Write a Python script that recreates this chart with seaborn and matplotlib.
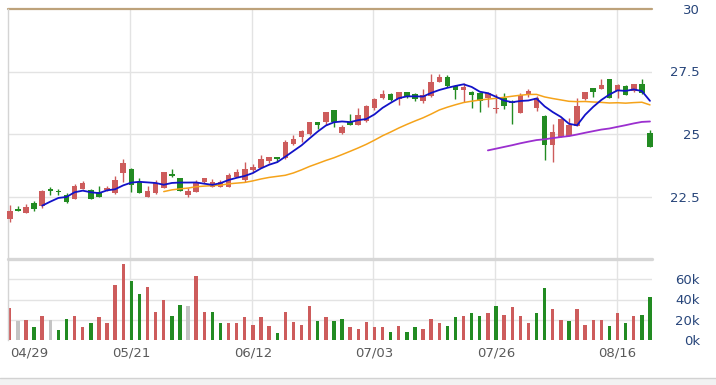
import numpy as np
import pandas as pd
import matplotlib
matplotlib.use("Agg")
import matplotlib.pyplot as plt
import seaborn as sns

# ---------------- data ----------------
opens = [21.60, 21.99, 21.85, 22.23, 22.12, 22.80, 22.73, 22.56, 22.41, 22.81,
         22.76, 22.69, 22.75, 22.63, 23.45, 23.59, 23.09, 22.49, 22.65, 22.83,
         23.40, 23.23, 22.56, 22.69, 23.09, 22.89, 22.87, 22.87, 23.29, 23.16,
         23.56, 23.65, 23.91, 24.09, 24.03, 24.60, 24.87, 25.00, 25.48, 25.49,
         25.96, 25.05, 25.47, 25.36, 25.53, 26.05, 26.43, 26.60, 26.39, 26.69,
         26.59, 26.33, 26.53, 27.09, 27.29, 26.92, 26.76, 26.69, 26.63, 26.43,
         25.99, 26.45, 26.29, 25.83, 26.59, 26.05, 25.73, 24.56, 24.89, 24.93,
         25.33, 26.39, 26.85, 26.80, 27.20, 26.72, 26.92, 26.72, 26.99, 25.03]
closes = [21.93, 21.93, 22.09, 21.99, 22.73, 22.73, 22.67, 22.29, 22.93, 23.05,
          22.41, 22.49, 22.85, 23.15, 23.83, 22.96, 22.65, 22.73, 23.03, 23.48,
          23.32, 22.73, 22.73, 23.05, 23.23, 23.09, 23.07, 23.36, 23.49, 23.60,
          23.67, 24.00, 24.09, 24.01, 24.69, 24.81, 25.13, 25.49, 25.37, 25.89,
          25.47, 25.29, 25.36, 25.76, 26.12, 26.39, 26.60, 26.36, 26.69, 26.49,
          26.39, 26.56, 27.09, 27.27, 26.93, 26.76, 26.89, 26.56, 26.32, 26.63,
          26.05, 26.13, 26.23, 26.56, 26.73, 26.45, 24.56, 25.09, 25.59, 25.36,
          26.13, 26.67, 26.69, 26.96, 26.45, 26.96, 26.56, 26.99, 26.63, 24.49]
highs = [22.16, 22.12, 22.20, 22.31, 22.76, 22.88, 22.81, 22.65, 23.00, 23.12,
         22.79, 22.92, 22.93, 23.33, 23.99, 23.63, 23.23, 22.92, 23.16, 23.48,
         23.59, 23.23, 22.83, 23.16, 23.23, 23.19, 23.16, 23.45, 23.59, 23.89,
         23.80, 24.16, 24.09, 24.09, 24.76, 24.96, 25.16, 25.49, 25.48, 25.89,
         25.96, 25.36, 25.79, 26.05, 26.16, 26.43, 26.76, 26.65, 26.69, 26.69,
         26.63, 26.80, 27.39, 27.39, 27.35, 26.96, 27.03, 26.72, 26.67, 26.69,
         26.59, 26.63, 26.36, 26.65, 26.80, 26.53, 25.76, 25.39, 25.63, 25.63,
         26.43, 26.69, 26.85, 27.20, 27.20, 26.99, 26.96, 26.99, 27.20, 25.16]
lows = [21.49, 21.91, 21.85, 21.93, 22.05, 22.56, 22.56, 22.23, 22.39, 22.79,
        22.39, 22.49, 22.72, 22.60, 23.09, 22.69, 22.65, 22.49, 22.60, 22.83,
        23.27, 22.73, 22.49, 22.69, 23.05, 22.87, 22.87, 22.87, 23.29, 23.09,
        23.49, 23.63, 23.85, 23.89, 23.99, 24.56, 24.69, 24.96, 25.19, 25.36,
        25.27, 25.01, 25.36, 25.36, 25.49, 25.96, 26.39, 26.33, 26.16, 26.43,
        26.32, 26.23, 26.49, 27.07, 26.90, 26.40, 26.29, 26.05, 25.87, 26.09,
        25.83, 25.99, 25.39, 25.83, 26.49, 25.92, 23.96, 23.87, 24.89, 24.93,
        25.33, 26.36, 26.49, 26.80, 26.45, 26.45, 26.56, 26.67, 26.59, 24.49]
volumes_k = [31.3, 19.1, 19.8, 12.5, 23.8, 19.8, 9.9, 21.1, 23.8, 12.5,
             16.5, 22.4, 16.5, 54.8, 74.6, 58.4, 45.2, 52.1, 27.7, 39.9,
             23.8, 35.0, 33.7, 63.4, 27.7, 27.7, 16.5, 16.5, 16.5, 22.4,
             15.2, 22.4, 13.9, 6.6, 27.7, 17.8, 15.2, 33.7, 19.1, 22.4,
             19.1, 21.1, 12.5, 11.2, 17.8, 12.5, 12.5, 7.9, 13.9, 7.9,
             12.5, 11.2, 21.1, 16.5, 13.9, 22.4, 23.8, 26.4, 23.8, 26.4,
             33.7, 25.1, 32.3, 23.8, 16.5, 26.4, 51.2, 31.0, 19.8, 19.1,
             31.0, 15.2, 19.8, 19.8, 13.9, 26.4, 16.5, 23.8, 25.1, 42.2]
date_labels = ["04/29", "05/21", "06/12", "07/03", "07/26", "08/16"]
date_index = [0, 15, 30, 45, 60, 75]
price_ticks = [22.5, 25, 27.5, 30]
volume_ticks = [0, 20, 40, 60]

# ---------------- derived ----------------
df = pd.DataFrame({"i": np.arange(len(closes)), "open": opens, "close": closes,
                   "high": highs, "low": lows, "vol": volumes_k})
df["ma5"] = df["close"].rolling(5).mean()
df["ma20"] = df["close"].rolling(20).mean()
df["ma60"] = df["close"].rolling(60).mean()
prev = np.r_[df["open"].iloc[0], df["close"].values[:-1]]

RED = "#cd5c5c"
GREEN = "#228b22"
GRAY = "#c4c4c4"
GRID = "#e3e3e3"

candle_col = np.where(df["close"] > df["open"], RED, GREEN)
diff = np.round(df["close"].values - prev, 3)
vol_col = np.where(diff > 0, RED, np.where(diff < 0, GREEN, GRAY))

# ---------------- figure ----------------
sns.set_theme(style="white")
plt.rcParams["font.family"] = ["DejaVu Sans"]

W, H = 716, 385
fig = plt.figure(figsize=(W / 100, H / 100), dpi=100)
fig.patch.set_facecolor("white")


def rect(l, t, r, b):
    return [l / W, 1 - b / H, (r - l) / W, (b - t) / H]


axp = fig.add_axes(rect(8, 9, 652, 259))
axv = fig.add_axes(rect(8, 259, 652, 340), sharex=axp)

for ax in (axp, axv):
    for s in ax.spines.values():
        s.set_visible(False)
    ax.set_facecolor("none")
    ax.set_xlim(-0.22, 79.25)
    for xi in date_index[1:]:
        ax.axvline(xi - 0.12, color=GRID, lw=1.0, zorder=0)
    ax.spines["left"].set_visible(True)
    ax.spines["left"].set_color("#d4d4d4")
    ax.spines["left"].set_linewidth(1.0)

# price panel
axp.set_ylim(20, 30)
for p in price_ticks[:-1]:
    axp.axhline(p, color=GRID, lw=1.0, zorder=0)
axp.axhline(30, color="#bda27a", lw=1.6, zorder=1, clip_on=False)

axp.vlines(df["i"], df["low"], df["high"], colors=candle_col, lw=1.0, zorder=2,
           clip_on=False)
body_lo = np.minimum(df["open"], df["close"])
body_h = np.maximum(np.abs(df["close"] - df["open"]), 0.04)
axp.bar(df["i"], body_h, bottom=body_lo, width=0.68, color=candle_col,
        linewidth=0, zorder=3, clip_on=False)

sns.lineplot(data=df.dropna(subset=["ma60"]), x="i", y="ma60", ax=axp,
             color="#9b2fcf", lw=1.3, zorder=4)
sns.lineplot(data=df.dropna(subset=["ma20"]), x="i", y="ma20", ax=axp,
             color="#f5a31a", lw=1.1, zorder=4)
sns.lineplot(data=df.dropna(subset=["ma5"]), x="i", y="ma5", ax=axp,
             color="#1212c8", lw=1.3, zorder=5)

axp.yaxis.tick_right()
axp.set_yticks(price_ticks)
axp.set_yticklabels(["22.5", "25", "27.5", "30"])
axp.tick_params(axis="y", length=0, pad=34.5, labelsize=9.5,
                labelcolor="#27457a", left=False, right=True)
for lab in axp.get_yticklabels():
    lab.set_horizontalalignment("right")
axp.tick_params(axis="x", bottom=False, labelbottom=False, length=0)
axp.set_xlabel("")
axp.set_ylabel("")

# volume panel
axv.set_ylim(0, 80)
for v in volume_ticks[1:]:
    axv.axhline(v, color=GRID, lw=1.0, zorder=0)
axv.axhline(80, color="#d6d6d6", lw=2.4, zorder=1, clip_on=False)
axv.bar(df["i"], df["vol"], width=0.42, color=vol_col, linewidth=0, zorder=2,
        clip_on=False)

axv.yaxis.tick_right()
axv.set_yticks(volume_ticks)
axv.set_yticklabels([f"{v}k" for v in volume_ticks])
axv.tick_params(axis="y", length=0, pad=34.5, labelsize=9.5,
                labelcolor="#27457a", left=False, right=True)
for lab in axv.get_yticklabels():
    lab.set_horizontalalignment("right")

axv.set_xticks(date_index)
axv.set_xticklabels(date_labels)
axv.tick_params(axis="x", length=0, pad=5, labelsize=9.5, labelcolor="#5a5a5a",
                bottom=True)
axv.get_xticklabels()[0].set_horizontalalignment("left")
axv.set_xlabel("")
axv.set_ylabel("")

# bottom strip
fig.patches.append(plt.Rectangle((0, 0), 1, 7 / H, transform=fig.transFigure,
                                 facecolor="#f2f2f2", edgecolor="none", zorder=0))
fig.lines.append(plt.Line2D([0, 1], [7.5 / H, 7.5 / H], transform=fig.transFigure,
                            color="#d2d2d2", lw=1.0))

fig.savefig("out.png", dpi=100, facecolor="white")
